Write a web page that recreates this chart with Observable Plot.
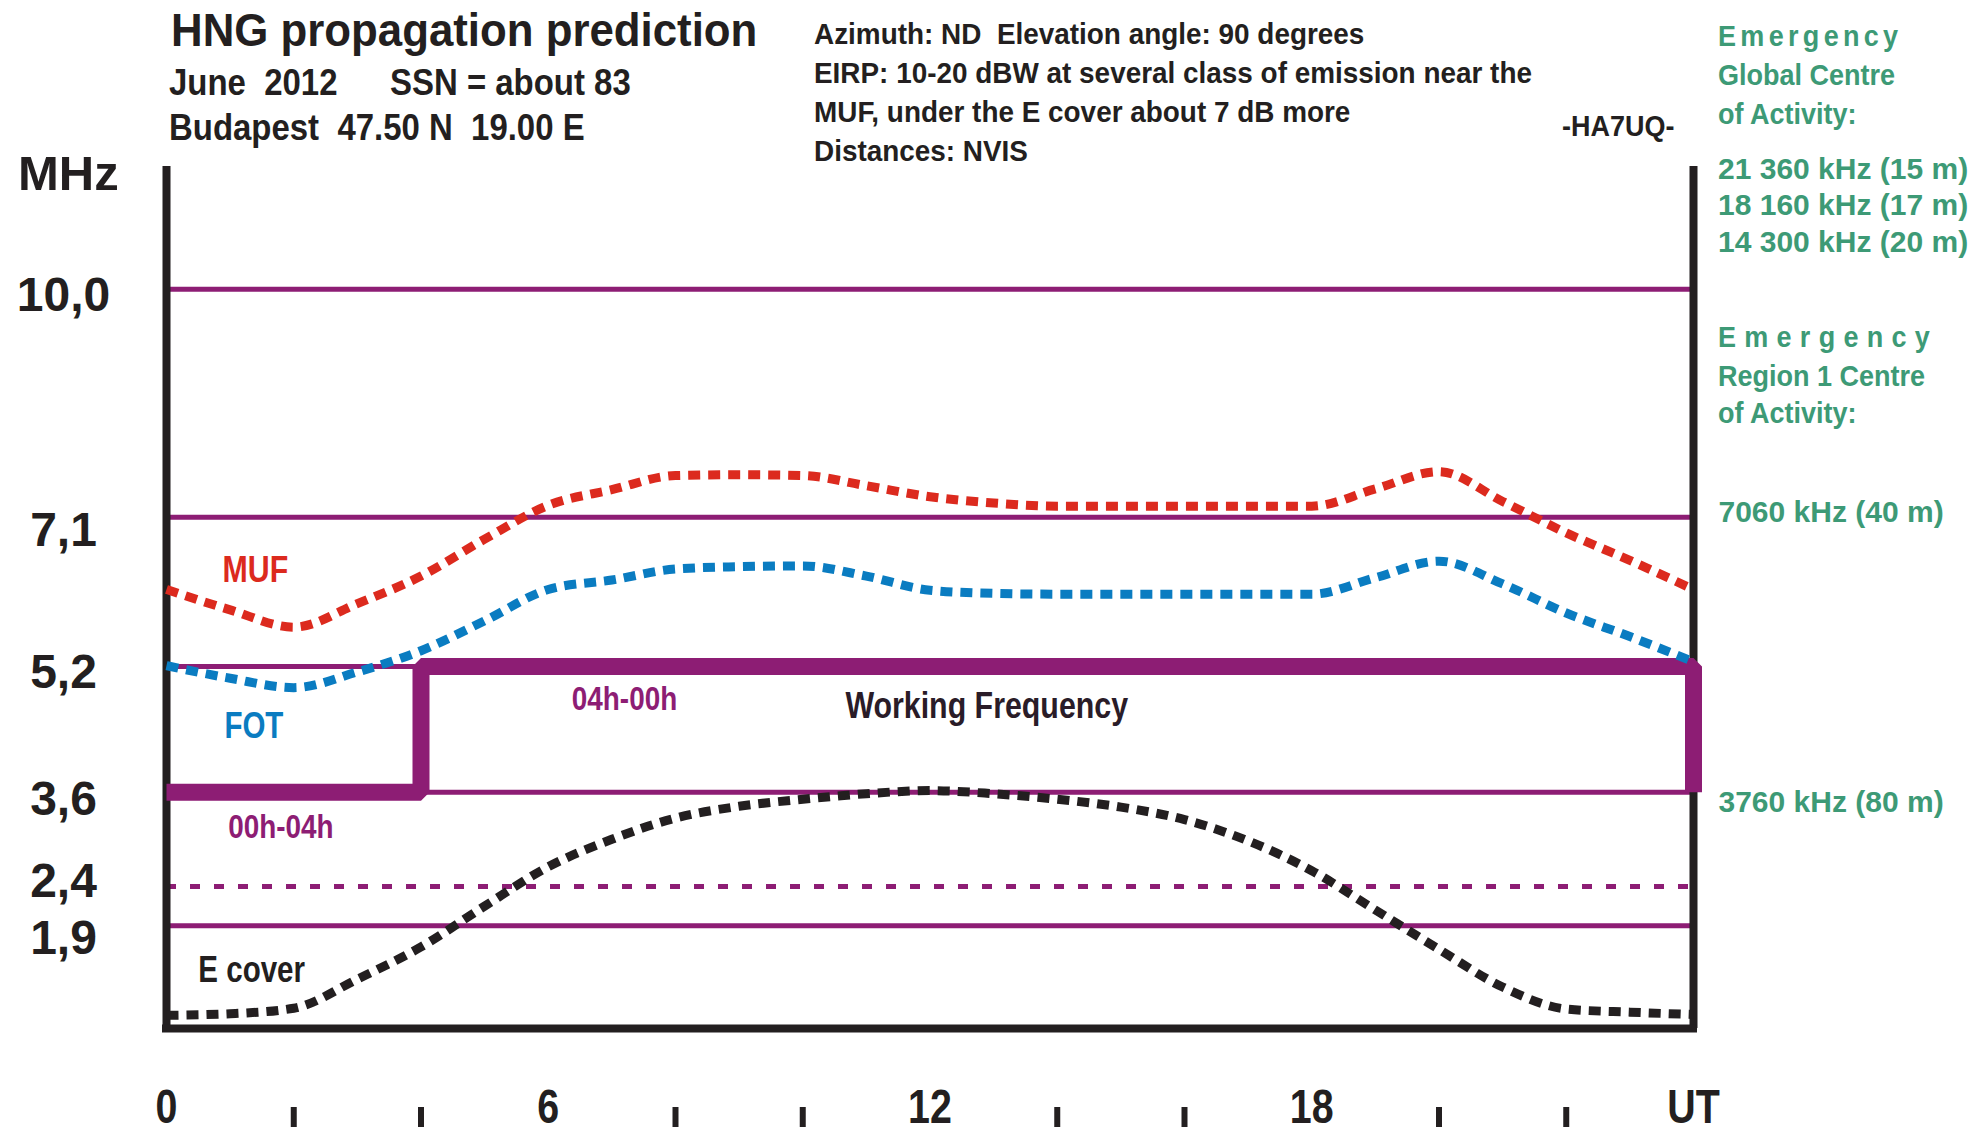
<!DOCTYPE html>
<html>
<head>
<meta charset="utf-8">
<script src="https://cdn.jsdelivr.net/npm/d3@7"></script>
<script src="https://cdn.jsdelivr.net/npm/@observablehq/plot@0.6"></script>
<style>
html, body { margin: 0; padding: 0; background: #ffffff; }
#wrap { position: relative; width: 1988px; height: 1135px; overflow: hidden;
  font-family: "Liberation Sans", Arial, sans-serif; font-weight: bold; }
#wrap svg { position: absolute; left: 0; top: 0; }
.t { position: absolute; white-space: pre; line-height: 1; transform-origin: 0 0; }
</style>
</head>
<body>
<div id="wrap"></div>
<script>
// ---------- data ----------
const hours  = [0, 1, 2, 3, 4, 5, 6, 7, 8, 9, 10, 11, 12, 13, 14, 15, 16, 17, 18, 19, 20, 21, 22, 23, 24];
const muf    = [6.18, 5.92, 5.70, 6.00, 6.35, 6.82, 7.25, 7.45, 7.63, 7.64, 7.63, 7.50, 7.36, 7.28, 7.24, 7.24, 7.24, 7.24, 7.24, 7.46, 7.68, 7.30, 6.90, 6.55, 6.18];
const fot    = [5.21, 5.05, 4.93, 5.13, 5.40, 5.78, 6.18, 6.30, 6.44, 6.47, 6.48, 6.35, 6.17, 6.13, 6.12, 6.12, 6.12, 6.12, 6.12, 6.33, 6.54, 6.25, 5.88, 5.58, 5.26];
const ecover = [0.76, 0.78, 0.85, 1.22, 1.63, 2.15, 2.65, 3.00, 3.27, 3.42, 3.51, 3.58, 3.62, 3.58, 3.51, 3.41, 3.25, 2.98, 2.60, 2.10, 1.60, 1.12, 0.84, 0.80, 0.77];

const wfHours = [0, 4, 4, 24, 24];
const wfMHz   = [3.6, 3.6, 5.2, 5.2, 3.6];

const solidLevels  = [10, 7.1, 5.2, 3.6, 1.9];
const dashedLevels = [2.4];

const xLabelHours = [0, 6, 12, 18, 24];
const xLabels     = ["0", "6", "12", "18", "UT"];
const minorHours  = [2, 4, 8, 10, 14, 16, 20, 22];

const band40Level = [7.1], band40Label = ["7060 kHz (40 m)"];
const band80Level = [3.6], band80Label = ["3760 kHz (80 m)"];

// ---------- styles ----------
const PURPLE = "#8d1d74", RED = "#dc2a1e", BLUE = "#0a7cc1", BLACK = "#231f20", GREEN = "#3d9a76";
const NARROW = '"Liberation Sans Narrow", "Arial Narrow", "Liberation Sans", sans-serif';
const REG = '"Liberation Sans", Arial, sans-serif';

const rows = hours.map((h, i) => ({hour: h, muf: muf[i], fot: fot[i], ecover: ecover[i]}));
const wfRows = wfHours.map((h, i) => ({hour: h, mhz: wfMHz[i]}));
const yMin = 0.592, yMax = 11.563;
const fmtY = d => d.toFixed(1).replace(".", ",");

const dots = {strokeWidth: 9, strokeDasharray: "12,8", curve: "monotone-x", strokeLinecap: "butt"};
const yAxisStyle = {anchor: "left", label: null, tickSize: 0, tickPadding: 103, textAnchor: "middle", tickFormat: fmtY, fontSize: 48, fontWeight: "bold", color: BLACK};
const lab = (fill, size) => ({text: d => d, fill, fontSize: size, fontWeight: "bold", fontFamily: NARROW, textAnchor: "start", lineAnchor: "bottom"});

const chart = Plot.plot({
  width: 1988,
  height: 1135,
  marginLeft: 166,
  marginRight: 295,
  marginTop: 166,
  marginBottom: 107,
  x: {domain: [0, 24]},
  y: {domain: [yMin, yMax]},
  style: {background: "transparent", fontFamily: REG, overflow: "visible"},
  marks: [
    Plot.ruleY(solidLevels, {stroke: PURPLE, strokeWidth: 5}),
    Plot.ruleY(dashedLevels, {stroke: PURPLE, strokeWidth: 5, strokeDasharray: "10,14"}),
    Plot.ruleX([0, 24], {stroke: BLACK, strokeWidth: 8}),
    Plot.ruleY([yMin], {stroke: BLACK, strokeWidth: 8, strokeLinecap: "square"}),
    Plot.line(wfRows, {x: "hour", y: "mhz", stroke: PURPLE, strokeWidth: 17, strokeLinejoin: "miter", strokeLinecap: "butt"}),
    Plot.line(rows, {x: "hour", y: "ecover", stroke: BLACK, ...dots}),
    Plot.line(rows, {x: "hour", y: "fot", stroke: BLUE, ...dots}),
    Plot.line(rows, {x: "hour", y: "muf", stroke: RED, ...dots}),
    // in-chart labels
    Plot.text(["MUF"], {x: 0.88, y: 6.27, ...lab(RED, 37)}),
    Plot.text(["FOT"], {x: 0.91, y: 4.29, ...lab(BLUE, 36)}),
    Plot.text(["04h-00h"], {x: 6.37, y: 4.64, ...lab(PURPLE, 34)}),
    Plot.text(["00h-04h"], {x: 0.97, y: 3.02, ...lab(PURPLE, 34)}),
    Plot.text(["Working Frequency"], {x: 10.67, y: 4.55, ...lab("#2a1c28", 37)}),
    Plot.text(["E cover"], {x: 0.5, y: 1.18, ...lab(BLACK, 36)}),
    Plot.text(band40Level, {y: d => d, frameAnchor: "right", dx: 25, dy: -5, text: (d, i) => band40Label[i], fill: GREEN, fontSize: 30, fontWeight: "bold", textAnchor: "start", lineAnchor: "middle"}),
    Plot.text(band80Level, {y: d => d, frameAnchor: "right", dx: 25, dy: 10, text: (d, i) => band80Label[i], fill: GREEN, fontSize: 30, fontWeight: "bold", textAnchor: "start", lineAnchor: "middle"}),
    // y axis labels (small per-group offsets as in the original artwork)
    Plot.axisY([10, 5.2], {...yAxisStyle, dy: 6}),
    Plot.axisY([3.6], {...yAxisStyle, dy: 7}),
    Plot.axisY([7.1], {...yAxisStyle, dy: 13}),
    Plot.axisY([2.4], {...yAxisStyle, dy: -5}),
    Plot.axisY([1.9], {...yAxisStyle, dy: 13}),
    // x axis labels and minor ticks
    Plot.axisX(xLabelHours, {anchor: "bottom", label: null, tickSize: 0, tickPadding: 60, tickFormat: d => xLabels[xLabelHours.indexOf(d)], fontSize: 48, fontWeight: "bold", fontFamily: NARROW, color: BLACK}),
    Plot.axisX(minorHours, {anchor: "bottom", label: null, tickSize: 20, tickFormat: () => "", strokeWidth: 6, dy: 79, color: BLACK})
  ]
});

const wrap = document.getElementById("wrap");
wrap.appendChild(chart);

// condense "narrow" texts if no narrow face is installed
(function () {
  const c = document.createElement("canvas").getContext("2d");
  c.font = 'bold 40px ' + REG;
  const wr = c.measureText("Working Frequency 0123").width;
  c.font = 'bold 40px ' + NARROW;
  const wn = c.measureText("Working Frequency 0123").width;
  if (wn / wr > 0.95) {
    chart.querySelectorAll('[font-family*="Narrow"] text').forEach(t => {
      const len = t.getComputedTextLength();
      if (len > 0) {
        t.setAttribute("textLength", (len * 0.82).toFixed(1));
        t.setAttribute("lengthAdjust", "spacingAndGlyphs");
      }
    });
  }
})();

// ---------- header texts (HTML) ----------
function addText(txt, left, baseline, size, color, sx, extra) {
  const d = document.createElement("div");
  d.className = "t";
  d.textContent = txt;
  d.style.left = left + "px";
  d.style.top = (baseline - 0.8465 * size) + "px";
  d.style.fontSize = size + "px";
  d.style.color = color;
  if (sx && sx !== 1) d.style.transform = "scaleX(" + sx + ")";
  if (extra) Object.assign(d.style, extra);
  wrap.appendChild(d);
}
addText("HNG propagation prediction", 171, 46, 46, BLACK, 0.952);
addText("June  2012", 169, 95, 36, BLACK, 0.915);
addText("SSN = about 83", 390, 95, 36, BLACK, 0.915);
addText("Budapest  47.50 N  19.00 E", 169, 140, 36, BLACK, 0.915);
addText("MHz", 18, 190, 49, BLACK);

addText("Azimuth: ND  Elevation angle: 90 degrees", 814, 44, 30, BLACK, 0.93);
addText("EIRP: 10-20 dBW at several class of emission near the", 814, 83, 30, BLACK, 0.93);
addText("MUF, under the E cover about 7 dB more", 814, 122, 30, BLACK, 0.93);
addText("Distances: NVIS", 814, 161, 30, BLACK, 0.93);
addText("-HA7UQ-", 1562, 137, 29, BLACK, 0.93);

addText("Emergency", 1718, 46, 30, GREEN, 0.9, {letterSpacing: "4.8px"});
addText("Global Centre", 1718, 85, 30, GREEN, 0.9);
addText("of Activity:", 1718, 124, 30, GREEN, 0.9);
addText("21 360 kHz (15 m)", 1718, 179, 30, GREEN);
addText("18 160 kHz (17 m)", 1718, 215, 30, GREEN);
addText("14 300 kHz (20 m)", 1718, 252, 30, GREEN);
addText("Emergency", 1718, 347, 30, GREEN, 0.9, {letterSpacing: "9.2px"});
addText("Region 1 Centre", 1718, 386, 30, GREEN, 0.9);
addText("of Activity:", 1718, 423, 30, GREEN, 0.9);
</script>
</body>
</html>
